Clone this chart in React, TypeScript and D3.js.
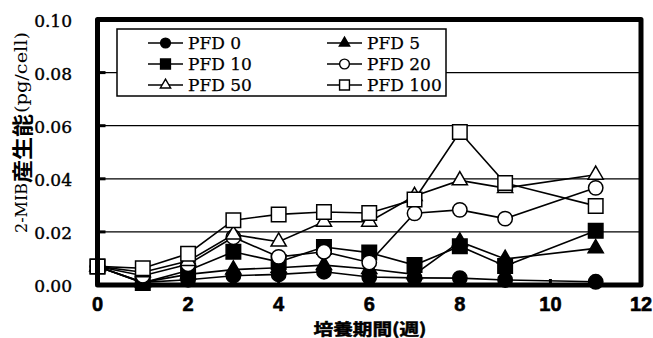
import React from "react";
import * as d3 from "d3";

const weeks = [0, 1, 2, 3, 4, 5, 6, 7, 8, 9, 11];
const pfd0 = [0.007, 0.001, 0.002, 0.0035, 0.004, 0.005, 0.003, 0.0027, 0.0026, 0.0019, 0.0012];
const pfd5 = [0.007, 0.001, 0.004, 0.0058, 0.0065, 0.0075, 0.006, 0.004, 0.0163, 0.0098, 0.0138];
const pfd10 = [0.007, 0.0008, 0.0055, 0.0125, 0.0087, 0.0143, 0.0122, 0.0075, 0.0146, 0.0072, 0.0204];
const pfd20 = [0.007, 0.0035, 0.0078, 0.018, 0.0106, 0.0125, 0.0085, 0.027, 0.0283, 0.025, 0.0366];
const pfd50 = [0.007, 0.0048, 0.009, 0.019, 0.0163, 0.0238, 0.0238, 0.0335, 0.0394, 0.0365, 0.0415];
const pfd100 = [0.007, 0.0063, 0.0118, 0.0244, 0.0266, 0.0275, 0.0271, 0.0322, 0.0576, 0.0384, 0.0298];

const seriesNames = ["PFD 0", "PFD 5", "PFD 10", "PFD 20", "PFD 50", "PFD 100"];
const seriesValues = [pfd0, pfd5, pfd10, pfd20, pfd50, pfd100];
const seriesShapes = ["circle", "triangle", "square", "circle", "triangle", "square"];
const seriesFilled = [true, true, true, false, false, false];

const yTicks = [0, 0.02, 0.04, 0.06, 0.08, 0.1];
const xTicks = [0, 2, 4, 6, 8, 10, 12];

const W = 653;
const H = 338;
const x = d3.scaleLinear().domain([0, 12]).range([97.5, 641]);
const y = d3.scaleLinear().domain([0, 0.1]).range([285, 19.5]);

function symbolPath(shape: string, big: boolean) {
  const s = big ? 1 : 0.68;
  if (shape === "circle") return d3.symbol(d3.symbolCircle, Math.PI * 7.2 * 7.2 * s * s)()!;
  if (shape === "square") return d3.symbol(d3.symbolSquare, 14.5 * 14.5 * s * s)()!;
  return d3.symbol(d3.symbolTriangle, 100 * s * s)()!;
}

export default function App() {
  const line = d3
    .line<[number, number]>()
    .x((d) => x(d[0]))
    .y((d) => y(d[1]));

  const legendCols = [148, 327];
  const legendRows = [43, 64, 85];

  return (
    <svg
      width={W}
      height={H}
      style={{ position: "absolute", left: 0, top: 0, background: "#fff" }}
    >
      <rect x={0} y={0} width={W} height={H} fill="#fff" />
      {yTicks
        .filter((t) => t > 0 && t < 0.1)
        .map((t) => (
          <line key={"g" + t} x1={x(0)} x2={x(12)} y1={y(t)} y2={y(t)} stroke="#000" strokeWidth={1.3} />
        ))}
      {yTicks.map((t) => (
        <line key={"yt" + t} x1={x(0)} x2={x(0) + 8} y1={y(t)} y2={y(t)} stroke="#000" strokeWidth={3} />
      ))}
      {xTicks.map((t) => (
        <line key={"xt" + t} x1={x(t)} x2={x(t)} y1={y(0)} y2={y(0) - 6} stroke="#000" strokeWidth={3} />
      ))}
      {seriesValues.map((vals, i) => {
        const pts: [number, number][] = weeks.map((w, j) => [w, vals[j]]);
        return (
          <g key={seriesNames[i]}>
            <path d={line(pts)!} fill="none" stroke="#000" strokeWidth={1.6} />
            {pts.map((p, j) => (
              <path
                key={j}
                d={symbolPath(seriesShapes[i], true)}
                transform={`translate(${x(p[0])},${y(p[1])})`}
                fill={seriesFilled[i] ? "#000" : "#fff"}
                stroke="#000"
                strokeWidth={1.5}
              />
            ))}
          </g>
        );
      })}
      <rect
        x={x(0)}
        y={y(0.1)}
        width={x(12) - x(0)}
        height={y(0) - y(0.1)}
        fill="none"
        stroke="#000"
        strokeWidth={5}
        strokeLinejoin="round"
      />
      <rect x={117} y={29} width={329} height={67} fill="#fff" stroke="#000" strokeWidth={1.5} />
      {seriesNames.map((name, i) => {
        const cx = legendCols[i % 2];
        const cy = legendRows[Math.floor(i / 2)];
        return (
          <g key={"lg" + name}>
            <line x1={cx} x2={cx + 35} y1={cy} y2={cy} stroke="#000" strokeWidth={1.6} />
            <path
              d={symbolPath(seriesShapes[i], false)}
              transform={`translate(${cx + 17.5},${cy})`}
              fill={seriesFilled[i] ? "#000" : "#fff"}
              stroke="#000"
              strokeWidth={1.4}
            />
            <text
              x={cx + 40}
              y={cy}
              dominantBaseline="central"
              fontFamily="'DejaVu Serif', serif"
              fontSize={17}
              fill="#000"
              stroke="#000"
              strokeWidth={0.25}
            >
              {name}
            </text>
          </g>
        );
      })}
      {yTicks.map((t) => (
        <text
          key={"yl" + t}
          x={72}
          y={y(t) + 1}
          textAnchor="end"
          dominantBaseline="central"
          fontFamily="'DejaVu Serif', serif"
          fontSize={17}
          fill="#000"
          stroke="#000"
          strokeWidth={0.4}
        >
          {t.toFixed(2)}
        </text>
      ))}
      {xTicks.map((t) => (
        <text
          key={"xl" + t}
          x={x(t)}
          y={304}
          textAnchor="middle"
          dominantBaseline="central"
          fontFamily="'Liberation Sans Narrow', 'Liberation Sans', Arial, sans-serif"
          fontWeight="bold"
          fontSize={20}
          fill="#000"
          stroke="#000"
          strokeWidth={0.6}
        >
          {t}
        </text>
      ))}
      <text
        x={370}
        y={327.5}
        textAnchor="middle"
        dominantBaseline="central"
        fontFamily="'Noto Sans CJK JP', sans-serif"
        fontWeight="bold"
        fontSize={16}
        textLength={113}
        lengthAdjust="spacingAndGlyphs"
        fill="#000"
        stroke="#000"
        strokeWidth={0.5}
      >
        培養期間(週)
      </text>
      <g transform="translate(21,132.5) rotate(-90)">
        <text
          x={-100.5}
          y={0}
          dominantBaseline="central"
          fontFamily="'DejaVu Serif', serif"
          fontSize={17}
          textLength={50}
          lengthAdjust="spacingAndGlyphs"
          fill="#000"
        >
          2-MIB
        </text>
        <text
          x={-50.5}
          y={0}
          dominantBaseline="central"
          fontFamily="'Noto Sans CJK JP', sans-serif"
          fontWeight="bold"
          fontSize={21}
          textLength={69}
          lengthAdjust="spacingAndGlyphs"
          fill="#000"
        >
          産生能
        </text>
        <text
          x={19.5}
          y={0}
          dominantBaseline="central"
          fontFamily="'DejaVu Serif', serif"
          fontSize={16}
          textLength={81}
          lengthAdjust="spacingAndGlyphs"
          fill="#000"
        >
          (pg/cell)
        </text>
      </g>
    </svg>
  );
}
